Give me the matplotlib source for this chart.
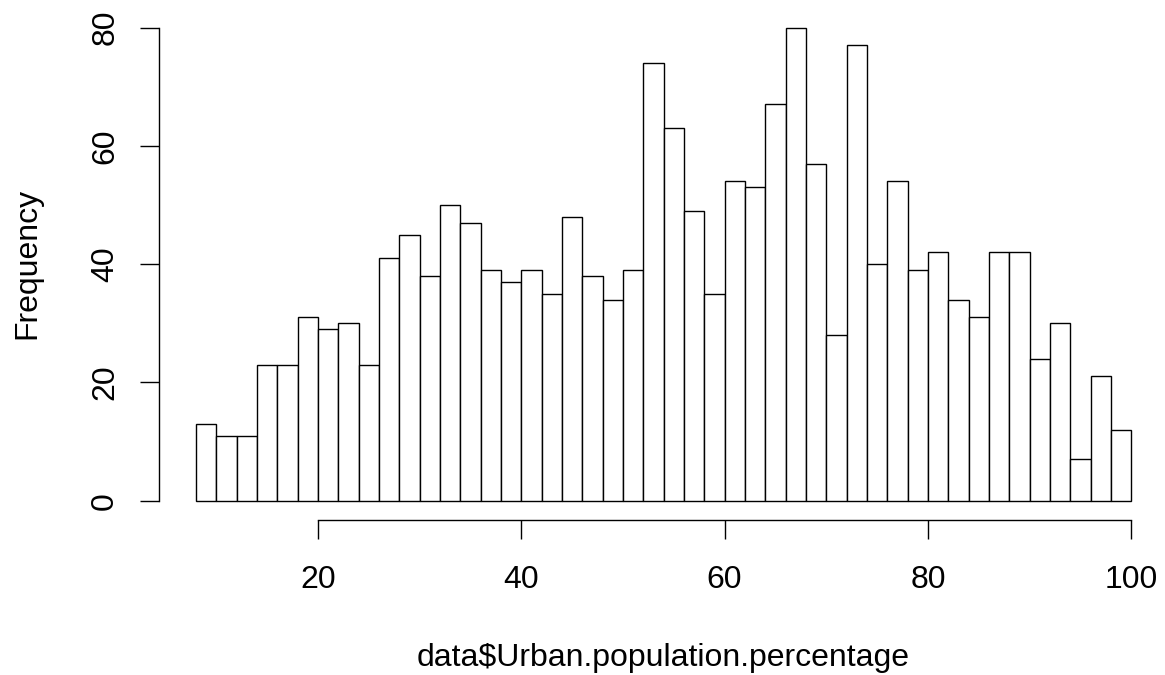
import numpy as np
import matplotlib
matplotlib.use('Agg')
import matplotlib.pyplot as plt

plt.rcParams['font.family'] = ['Liberation Sans', 'DejaVu Sans']

# histogram of urban population share, 2-point bins from 8 to 100
bin_start = 8
bin_width = 2
counts = [13, 11, 11, 23, 23, 31, 29, 30, 23, 41, 45, 38, 50, 47, 39, 37,
          39, 35, 48, 38, 34, 39, 74, 63, 49, 35, 54, 53, 67, 80, 57, 28,
          77, 40, 54, 39, 42, 34, 31, 42, 42, 24, 30, 7, 21, 12]
x_ticks = [20, 40, 60, 80, 100]
y_ticks = [0, 20, 40, 60, 80]

edges = bin_start + bin_width * np.arange(len(counts))
x_lo, x_hi = edges[0], edges[-1] + bin_width
x_pad = 0.04 * (x_hi - x_lo)
y_pad = 0.04 * max(counts)

W, H = 1165, 675
fig = plt.figure(figsize=(W / 100, H / 100), dpi=100)
ax = fig.add_axes([158.6 / W, (H - 519.6) / H, 1010 / W, 511 / H])

ax.bar(edges, counts, width=bin_width, align='edge',
       facecolor='white', edgecolor='black', linewidth=1.0)

ax.set_xlim(x_lo - x_pad, x_hi + x_pad)
ax.set_ylim(-y_pad, max(counts) + y_pad)

for side in ['top', 'right']:
    ax.spines[side].set_visible(False)
ax.spines['left'].set_bounds(y_ticks[0], y_ticks[-1])
ax.spines['bottom'].set_bounds(x_ticks[0], x_ticks[-1])
ax.spines['left'].set_linewidth(1.0)
ax.spines['bottom'].set_linewidth(1.0)

ax.set_xticks(x_ticks)
ax.set_yticks(y_ticks)
ax.tick_params(axis='both', direction='out', length=13.7, width=1.0,
               labelsize=23, colors='black')
ax.tick_params(axis='x', pad=19)
ax.tick_params(axis='y', pad=14)
for lab in ax.get_yticklabels():
    lab.set_rotation(90)
    lab.set_va('center')

fig.text(663.6 / W, (H - 666) / H, 'data$Urban.population.percentage',
         ha='center', va='baseline', fontsize=23)
fig.text(27.7 / W, (H - 263) / H, 'Frequency', rotation=90,
         ha='center', va='center', fontsize=23)

fig.savefig('out.png', dpi=100, facecolor='white')
